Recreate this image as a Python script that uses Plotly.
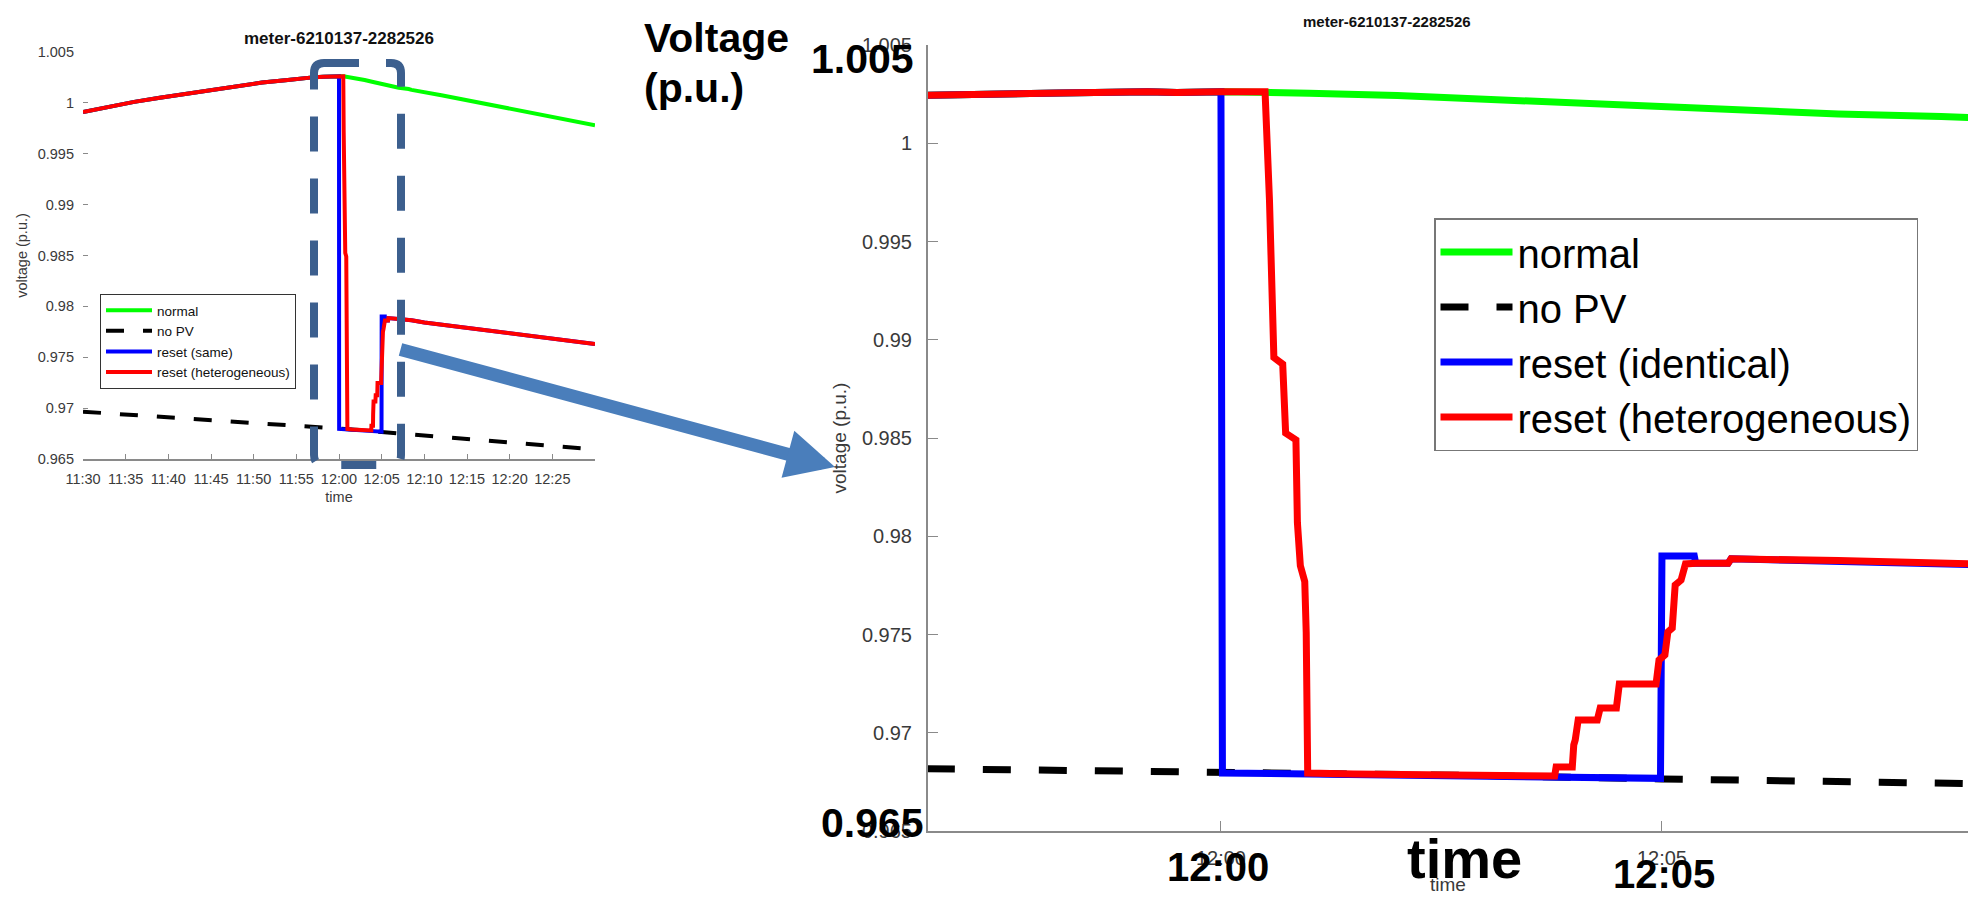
import plotly.graph_objects as go

DAY = "2018-07-01 "

# ---------------- data ----------------
# common part of every PV scenario before the event
pre_times = ["11:30:00", "11:33:00", "11:36:00", "11:39:00", "11:42:00", "11:45:00",
             "11:48:00", "11:51:00", "11:54:00", "11:56:00", "11:57:10", "11:58:10",
             "11:59:10", "11:59:30", "12:00:00"]
pre_volts = [0.9991, 0.9996, 1.0001, 1.0005, 1.0009, 1.0013,
             1.0017, 1.0020, 1.00225, 1.00245, 1.00253, 1.00256,
             1.00262, 1.00258, 1.00262]

normal_times = ["12:00:30", "12:01:00", "12:02:00", "12:03:00", "12:04:00", "12:05:00",
                "12:05:30", "12:06:00", "12:07:00", "12:08:10", "12:08:30", "12:12:00",
                "12:15:00", "12:18:00", "12:21:00", "12:24:00", "12:27:00", "12:30:00"]
normal_volts = [1.00262, 1.00255, 1.00243, 1.00225, 1.00205, 1.00185,
                1.00174, 1.00164, 1.00149, 1.00136, 1.00128, 1.00075,
                1.00025, 0.99975, 0.99925, 0.99878, 0.99830, 0.99780]

nopv_times = ["11:30:00", "11:40:00", "11:50:00", "11:57:00", "12:00:00", "12:03:00",
              "12:05:00", "12:08:30", "12:15:00", "12:22:00", "12:30:00"]
nopv_volts = [0.96965, 0.96912, 0.96858, 0.96818, 0.96802, 0.96782,
              0.96765, 0.96742, 0.96697, 0.96648, 0.96595]

same_times = ["12:00:01", "12:01:00", "12:02:30", "12:03:45", "12:04:59", "12:05:00", "12:05:22"]
same_volts = [0.96795, 0.96790, 0.96782, 0.96770, 0.96768, 0.97900, 0.97900]

hetero_times = ["12:00:30", "12:00:33", "12:00:36", "12:00:42", "12:00:44", "12:00:51",
                "12:00:52", "12:00:54", "12:00:57", "12:00:58", "12:00:59", "12:01:30",
                "12:02:30", "12:03:30", "12:03:47", "12:03:48", "12:03:59", "12:04:00",
                "12:04:01", "12:04:03", "12:04:16", "12:04:18", "12:04:29", "12:04:31",
                "12:04:56", "12:04:58", "12:05:02", "12:05:04", "12:05:07", "12:05:09",
                "12:05:13", "12:05:16"]
hetero_volts = [1.00262, 0.99710, 0.98910, 0.98876, 0.98525, 0.98490,
                0.98070, 0.97850, 0.97770, 0.97510, 0.96795, 0.96790,
                0.96785, 0.96782, 0.96780, 0.96826, 0.96826, 0.96938,
                0.96963, 0.97065, 0.97065, 0.97126, 0.97126, 0.97248,
                0.97248, 0.97370, 0.97396, 0.97513, 0.97533, 0.97752,
                0.97777, 0.97859]

# after recovery both reset scenarios follow the same curve
tail_times = ["12:05:23", "12:05:45", "12:05:47", "12:07:00", "12:08:30", "12:10:00",
              "12:15:00", "12:20:00", "12:25:00", "12:30:00"]
tail_volts = [0.97862, 0.97862, 0.97885, 0.97876, 0.97864, 0.97842,
              0.97787, 0.97733, 0.97680, 0.97630]

y_ticks = [0.965, 0.97, 0.975, 0.98, 0.985, 0.99, 0.995, 1.0, 1.005]
y_tick_text = ["0.965", "0.97", "0.975", "0.98", "0.985", "0.99", "0.995", "1", "1.005"]
left_x_ticks = ["11:30", "11:35", "11:40", "11:45", "11:50", "11:55", "12:00",
                "12:05", "12:10", "12:15", "12:20", "12:25"]
right_x_ticks = ["12:00", "12:05"]

left_names = ["normal", "no PV", "reset (same)", "reset (heterogeneous)"]
right_names = ["normal", "no PV", "reset (identical)", "reset (heterogeneous)"]
colors = ["#00ff00", "#000000", "#0000ff", "#ff0000"]

# ---------------- build series ----------------
def ts(lst):
    return [DAY + t for t in lst]

series_x = [
    ts(pre_times + normal_times),
    ts(nopv_times),
    ts(pre_times + same_times + tail_times),
    ts(pre_times + hetero_times + tail_times),
]
series_y = [
    pre_volts + normal_volts,
    nopv_volts,
    pre_volts + same_volts + tail_volts,
    pre_volts + hetero_volts + tail_volts,
]

W, H = 1968, 898
def px(x):
    return x / W
def py(y):
    return 1 - y / H

FONT = "Liberation Sans, Arial, sans-serif"
fig = go.Figure()

for i in range(4):
    fig.add_trace(go.Scatter(
        x=series_x[i], y=series_y[i], mode="lines", name=left_names[i],
        xaxis="x", yaxis="y", legend="legend",
        line=dict(color=colors[i], width=4, dash="18px,19px" if i == 1 else "solid"),
        hoverinfo="skip"))
for i in range(4):
    fig.add_trace(go.Scatter(
        x=series_x[i], y=series_y[i], mode="lines", name=right_names[i],
        xaxis="x2", yaxis="y2", legend="legend2",
        line=dict(color=colors[i], width=7, dash="28px,28px" if i == 1 else "solid"),
        hoverinfo="skip"))

axis_gray = "#8a8a8a"
tick_col = "#3a3a3a"

fig.update_layout(
    width=W, height=H, margin=dict(l=0, r=0, t=0, b=0),
    paper_bgcolor="white", plot_bgcolor="white", template="none",
    font=dict(family=FONT, color="#000"),
    showlegend=True,
    xaxis=dict(
        domain=[px(83), px(595)], anchor="y", type="date",
        range=[DAY + "11:30:00", DAY + "12:30:00"],
        tickvals=ts([t + ":00" for t in left_x_ticks]), ticktext=left_x_ticks,
        ticks="inside", ticklen=5, tickcolor=axis_gray, tickwidth=1,
        showline=True, linecolor=axis_gray, linewidth=1.5,
        showgrid=False, zeroline=False, ticklabelstandoff=6,
        tickfont=dict(size=14.5, color=tick_col),
        title=dict(text="time", font=dict(size=14.5, color=tick_col), standoff=6),
    ),
    yaxis=dict(
        domain=[py(459), py(52)], anchor="x",
        range=[0.965, 1.005], tickvals=y_ticks, ticktext=y_tick_text,
        ticks="inside", ticklen=5, tickcolor=axis_gray,
        showline=False, showgrid=False, zeroline=False, ticklabelstandoff=8,
        tickfont=dict(size=14.5, color=tick_col),
        title=dict(text="voltage (p.u.)", font=dict(size=14.5, color=tick_col), standoff=6),
    ),
    xaxis2=dict(
        domain=[px(928), 1.0], anchor="y2", type="date",
        range=[DAY + "11:56:40.7", DAY + "12:08:28.2"],
        tickvals=ts([t + ":00" for t in right_x_ticks]), ticktext=right_x_ticks,
        ticks="inside", ticklen=10, tickcolor=axis_gray,
        showline=True, linecolor=axis_gray, linewidth=2,
        showgrid=False, zeroline=False, ticklabelstandoff=8,
        tickfont=dict(size=20, color=tick_col),
        title=dict(text="time", font=dict(size=19, color=tick_col), standoff=10),
    ),
    yaxis2=dict(
        domain=[py(831), py(45)], anchor="x2",
        range=[0.965, 1.005], tickvals=y_ticks, ticktext=y_tick_text,
        ticks="inside", ticklen=10, tickcolor=axis_gray,
        showline=True, linecolor=axis_gray, linewidth=2,
        showgrid=False, zeroline=False, ticklabelstandoff=10,
        tickfont=dict(size=20, color=tick_col),
        title=dict(text="voltage (p.u.)", font=dict(size=19, color=tick_col), standoff=10),
    ),
    legend=dict(
        x=px(100), y=py(294), xanchor="left", yanchor="top",
        bgcolor="white", bordercolor="#333", borderwidth=1,
        font=dict(size=13.5, color="#111"), itemwidth=46, tracegroupgap=0,
    ),
    legend2=dict(
        x=px(1434), y=py(218), xanchor="left", yanchor="top",
        bgcolor="white", bordercolor="#777", borderwidth=1.5,
        font=dict(size=40, color="#000"), itemwidth=72, tracegroupgap=0,
    ),
)

# dashed rounded rectangle highlighting the zoomed window
x0, x1, y0, y1, r = 314, 401, 63, 465, 10
path = (f"M {px(x0+r)},{py(y0)} L {px(x1-r)},{py(y0)} Q {px(x1)},{py(y0)} {px(x1)},{py(y0+r)} "
        f"L {px(x1)},{py(y1-r)} Q {px(x1)},{py(y1)} {px(x1-r)},{py(y1)} "
        f"L {px(x0+r)},{py(y1)} Q {px(x0)},{py(y1)} {px(x0)},{py(y1-r)} "
        f"L {px(x0)},{py(y0+r)} Q {px(x0)},{py(y0)} {px(x0+r)},{py(y0)} Z")
fig.add_shape(type="path", path=path, xref="paper", yref="paper",
              line=dict(color="#3c5f8e", width=8, dash="35px,27px"), layer="above")

ann = []
# arrow from the zoom window to the enlarged plot
ann.append(dict(x=px(835), y=py(467), xref="paper", yref="paper", text="",
                showarrow=True, ax=399 - 835, ay=349 - 467, arrowhead=2,
                arrowsize=0.75, arrowwidth=13, arrowcolor="#4a7ebb", standoff=0))

def label(x, y, text, size, xanchor="center", family=FONT, color="#000"):
    return dict(x=px(x), y=py(y), xref="paper", yref="paper", showarrow=False,
                xanchor=xanchor, yanchor="middle", text=text,
                font=dict(size=size, color=color, family=family))

# plot titles
ann.append(label(339, 38, "<b>meter-6210137-2282526</b>", 17, color="#111"))
ann.append(label(1387, 21, "<b>meter-6210137-2282526</b>", 15, color="#111"))
# big bold overlay labels
ann.append(label(642, 38, "<b>Voltage</b>", 41, xanchor="left"))
ann.append(label(642, 88, "<b>(p.u.)</b>", 41, xanchor="left"))
ann.append(label(916, 59, "<b>1.005</b>", 41, xanchor="right"))
ann.append(label(926, 823, "<b>0.965</b>", 41, xanchor="right"))
ann.append(label(1218, 867, "<b>12:00</b>", 40))
ann.append(label(1664, 874, "<b>12:05</b>", 40))
ann.append(label(1464, 858, "<b>time</b>", 56,
                 family="Liberation Sans Narrow, Arial Narrow, Liberation Sans, sans-serif"))
fig.update_layout(annotations=ann)

fig.write_html("out.html", config={"displayModeBar": False},
               post_script="document.body.style.margin='0';document.body.style.overflow='hidden';")
